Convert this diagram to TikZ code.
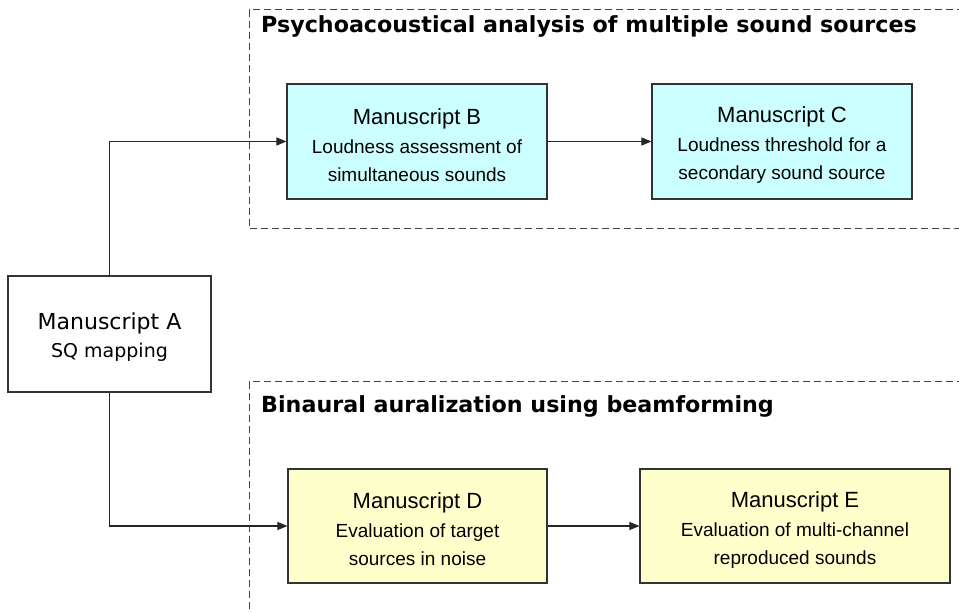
\documentclass[tikz,border=0pt]{standalone}
\usepackage{fontspec}
\setmainfont{Liberation Sans}
\newfontfamily\vfont{DejaVu Sans}
\usetikzlibrary{arrows.meta}
\definecolor{cyanfill}{HTML}{CCFFFF}
\definecolor{yellowfill}{HTML}{FFFFCC}
\definecolor{edgegray}{HTML}{333333}
\definecolor{framegray}{HTML}{444444}
\tikzset{
  box/.style={draw=edgegray, line width=1.2pt, rectangle, align=center, inner sep=0pt,
    font=\fontsize{19pt}{28pt}\selectfont, text=black},
  cbox/.style={box, fill=cyanfill, minimum height=115pt},
  ybox/.style={box, fill=yellowfill, minimum height=114pt},
  conn/.style={draw=black!85, line width=1.1pt, -{Triangle[length=10pt,width=8pt]}},
  frame/.style={draw=framegray, line width=1pt, dash pattern=on 7pt off 4pt},
  ftitle/.style={anchor=base west, inner sep=0pt, font=\vfont\bfseries\fontsize{22.2pt}{26pt}\selectfont}
}
\newcommand{\mhead}[1]{{\fontsize{22pt}{28pt}\selectfont\rule{0pt}{23pt}#1}}
\begin{document}
\begin{tikzpicture}[x=1pt,y=-1pt]
\useasboundingbox (0,0) rectangle (959,612);
\clip (0,0) rectangle (959,612);
% dashed group frames
\draw[frame] (975,10) -- (249,10) -- (249,229) -- (975,229);
\draw[frame] (975,382) -- (249,382) -- (249,630);
\node[ftitle] (t1) at (261,33) {Psychoacoustical analysis of multiple sound sources};
\node[ftitle] (t2) at (261,412) {Binaural auralization using beamforming};
% boxes
\node[box, fill=white, minimum width=203pt, minimum height=116pt,
      font=\vfont\fontsize{19pt}{28pt}\selectfont] (A) at (109.5,334)
  {\mhead{Manuscript A}\\SQ mapping};
\node[cbox, minimum width=260pt] (B) at (417,141.5)
  {\mhead{Manuscript B}\\[1pt]Loudness assessment of\\simultaneous sounds};
\node[cbox, minimum width=260pt] (C) at (782,141.5)
  {\mhead{Manuscript C}\\[1pt]Loudness threshold for a\\secondary sound source};
\node[ybox, minimum width=259pt] (D) at (417.5,526)
  {\mhead{Manuscript D}\\[1pt]Evaluation of target\\sources in noise};
\node[ybox, minimum width=310pt] (E) at (795,526)
  {\mhead{Manuscript E}\\[1pt]Evaluation of multi-channel\\reproduced sounds};
% connectors
\draw[conn] (A.north) |- (B.west);
\draw[conn] (A.south) |- (D.west);
\draw[conn] (B) -- (C);
\draw[conn] (D) -- (E);
\end{tikzpicture}
\end{document}
